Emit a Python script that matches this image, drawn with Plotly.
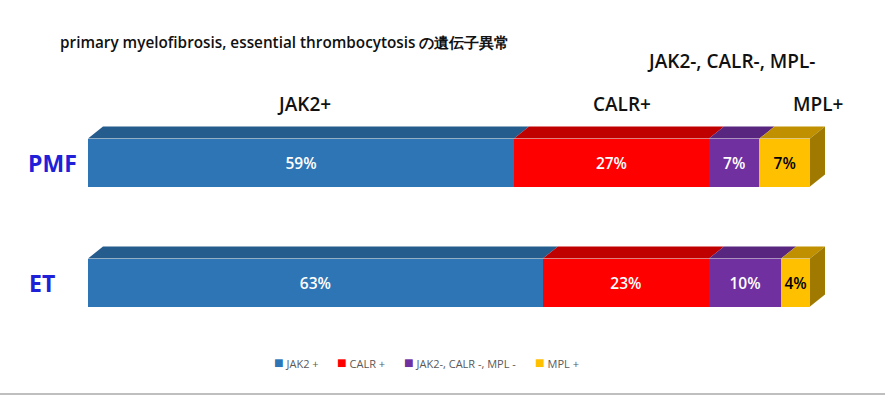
import plotly.graph_objects as go

# ---- data ----
groups = ["PMF", "ET"]
group_pos = [1, 0]
series_names = ["JAK2 +", "CALR +", "JAK2-, CALR -, MPL -", "MPL +"]
header_labels = ["JAK2+", "CALR+", "JAK2-, CALR-, MPL-", "MPL+"]
values = {
    "JAK2 +": [59, 63],
    "CALR +": [27, 23],
    "JAK2-, CALR -, MPL -": [7, 10],
    "MPL +": [7, 4],
}
front_colors = ["#2E75B6", "#FF0000", "#7030A0", "#FFC000"]
top_colors = ["#245C8E", "#C00000", "#58257F", "#C09000"]
side_color = "#A07A00"
text_colors = ["white", "white", "white", "black"]
title_text = "primary myelofibrosis, essential thrombocytosis の遺伝子異常"

W, H = 885, 395
ML, MR, MT, MB = 88, 45, 42, 65
px_per_unit = 7.22
plot_w = W - ML - MR
plot_h = H - MT - MB
x_max = plot_w / px_per_unit
# y: 120 px per unit; ET (0) centre at pixel 282.5
y_top = 1 + (162.5 - MT) / 120
y_bot = -(H - MB - 282.5) / 120
bar_w = 0.4
dx = 15 / px_per_unit
dy = 12 / 120

def px(p):
    return (p - ML) / plot_w

def py(p):
    return (H - MB - p) / plot_h

FONT = "Open Sans"
fig = go.Figure()

# 3D top faces and side face
for gi, yc in enumerate(group_pos):
    yt = yc + bar_w / 2
    yb = yc - bar_w / 2
    cum = 0
    for si, name in enumerate(series_names):
        v = values[name][gi]
        x0, x1 = cum, cum + v
        fig.add_trace(go.Scatter(
            x=[x0, x1, x1 + dx, x0 + dx, x0],
            y=[yt, yt, yt + dy, yt + dy, yt],
            fill="toself", fillcolor=top_colors[si], mode="lines",
            line=dict(width=0), hoverinfo="skip", showlegend=False))
        cum = x1
    fig.add_trace(go.Scatter(
        x=[cum, cum + dx, cum + dx, cum, cum],
        y=[yb, yb + dy, yt + dy, yt, yb],
        fill="toself", fillcolor=side_color, mode="lines",
        line=dict(width=0), hoverinfo="skip", showlegend=False))

# front faces
for si, name in enumerate(series_names):
    fig.add_trace(go.Bar(
        name=name, y=group_pos, x=values[name], orientation="h",
        width=bar_w, marker=dict(color=front_colors[si], line=dict(width=0)),
        text=[f"{v}%" for v in values[name]], textposition="inside",
        insidetextanchor="middle",
        textfont=dict(family=FONT, size=15.5, color=text_colors[si], weight=600),
        hoverinfo="skip", showlegend=False))

fig.update_layout(
    width=W, height=H, barmode="stack",
    margin=dict(l=ML, r=MR, t=MT, b=MB),
    paper_bgcolor="white", plot_bgcolor="white",
    xaxis=dict(range=[0, x_max], visible=False, fixedrange=True),
    yaxis=dict(range=[y_bot, y_top], visible=False, fixedrange=True),
    showlegend=False,
    uniformtext=dict(mode=False),
)

ann = []
ann.append(dict(text=title_text, x=px(58), y=py(42), xanchor="left", yanchor="middle",
                font=dict(family=FONT, size=15.3, color="#111111", weight=600)))
header_pos = [(304, 104), (622, 104), (731, 61), (818, 104)]
for lab, (hx, hy) in zip(header_labels, header_pos):
    ann.append(dict(text=lab, x=px(hx), y=py(hy), xanchor="center", yanchor="middle",
                    font=dict(family=FONT, size=19, color="#111111", weight=600)))
for g, (gx, gy) in zip(groups, [(52, 163), (42, 283)]):
    ann.append(dict(text=g, x=px(gx), y=py(gy), xanchor="center", yanchor="middle",
                    font=dict(family=FONT, size=23, color="#2020D8", weight=700)))
# legend built as text with coloured squares
legend_x = [273, 336, 403, 534]
for name, col, lx in zip(series_names, front_colors, legend_x):
    ann.append(dict(text=f"<span style='color:{col};font-size:16px'>■</span> {name}",
                    x=px(lx - 1), y=py(362), xanchor="left", yanchor="middle",
                    font=dict(family=FONT, size=11, color="#595959")))
for a in ann:
    a.update(xref="paper", yref="paper", showarrow=False)
fig.update_layout(annotations=ann)

fig.add_shape(type="line", xref="paper", yref="paper", x0=px(0), x1=px(W),
              y0=py(394), y1=py(394), line=dict(color="#BFBFBF", width=2))

fig.write_html("out.html", config={"displayModeBar": False},
               post_script="document.body.style.margin='0';")
